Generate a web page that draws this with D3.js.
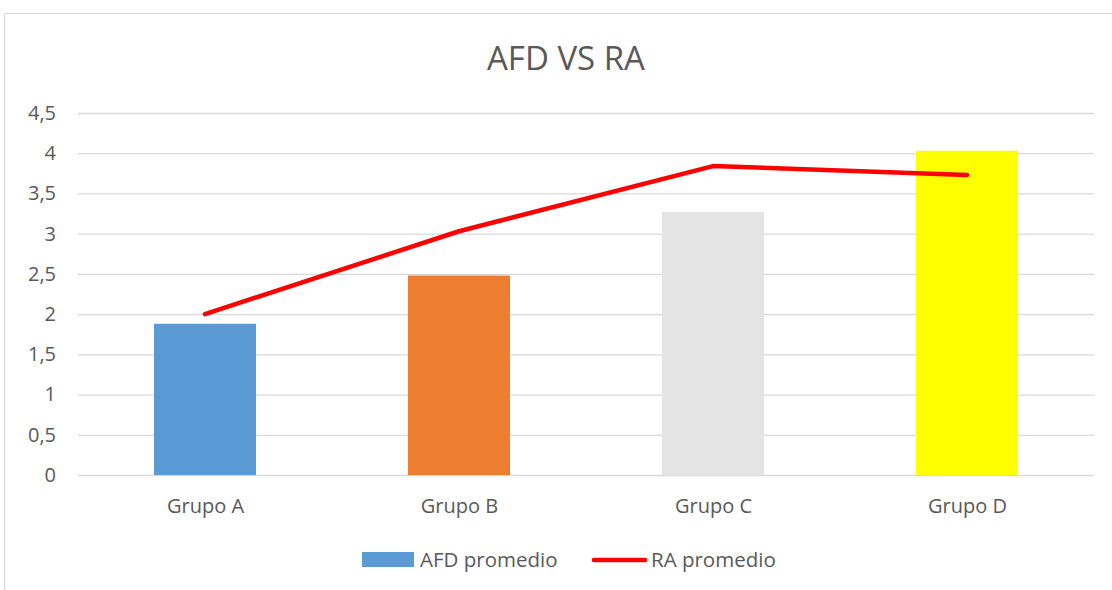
<!DOCTYPE html>
<html>
<head>
<meta charset="utf-8">
<script src="https://cdn.jsdelivr.net/npm/d3@7"></script>
<style>
  body { margin: 0; background: #fff; }
  text { font-family: "Open Sans", "Noto Sans", sans-serif; fill: #595959; }
</style>
</head>
<body>
<div id="chart"></div>
<script>
// data
var groups = ["Grupo A", "Grupo B", "Grupo C", "Grupo D"];
var afdValues = [1.88, 2.48, 3.27, 4.03];
var raValues = [2.0, 3.03, 3.84, 3.73];
var barColors = ["#5B9BD5", "#ED7D31", "#E4E4E4", "#FFFF00"];
var yTicks = [0, 0.5, 1, 1.5, 2, 2.5, 3, 3.5, 4, 4.5];

var width = 1112, height = 590;
var margin = {top: 113, right: 18, bottom: 115, left: 78};

var svg = d3.select("#chart").append("svg")
    .attr("width", width)
    .attr("height", height);

// chart frame
svg.append("rect")
    .attr("x", 4.5).attr("y", 13.5)
    .attr("width", width + 10).attr("height", height + 10)
    .attr("fill", "none")
    .attr("stroke", "#d9d9d9");

var plotW = width - margin.left - margin.right;
var plotH = height - margin.top - margin.bottom;

var y = d3.scaleLinear()
    .domain([0, 4.5])
    .range([plotH, 0]);

var g = svg.append("g")
    .attr("transform", "translate(" + margin.left + "," + margin.top + ")");

// gridlines
g.append("g")
    .attr("class", "grid")
    .call(d3.axisLeft(y).tickValues(yTicks).tickSize(-plotW).tickFormat(""))
    .call(function(s) { s.select(".domain").remove(); })
    .selectAll("line")
    .attr("stroke", "#d9d9d9")
    .attr("stroke-width", 1.3);

// y labels
var fmt = function(d) { return String(d).replace(".", ","); };
g.append("g")
    .call(d3.axisLeft(y).tickValues(yTicks).tickSize(0).tickPadding(22).tickFormat(fmt))
    .call(function(s) { s.select(".domain").remove(); })
    .selectAll("text")
    .style("font-size", "20px")
    .attr("fill", "#595959");

// x labels
var bandStep = plotW / groups.length;
var xc = d3.scalePoint()
    .domain(groups)
    .range([bandStep / 2, plotW - bandStep / 2]);

g.append("g")
    .attr("transform", "translate(0," + plotH + ")")
    .call(d3.axisBottom(xc).tickSize(0).tickPadding(24))
    .call(function(s) { s.select(".domain").remove(); })
    .selectAll("text")
    .style("font-size", "20px")
    .attr("fill", "#595959");

// bars
var barW = 102;
g.selectAll(".bar")
    .data(afdValues)
    .enter().append("rect")
    .attr("class", "bar")
    .attr("x", function(d, i) { return xc(groups[i]) - barW / 2; })
    .attr("y", function(d) { return y(d); })
    .attr("width", barW)
    .attr("height", function(d) { return plotH - y(d); })
    .attr("fill", function(d, i) { return barColors[i]; });

// line
var line = d3.line()
    .x(function(d, i) { return xc(groups[i]); })
    .y(function(d) { return y(d); });

g.append("path")
    .datum(raValues)
    .attr("d", line)
    .attr("fill", "none")
    .attr("stroke", "#FF0000")
    .attr("stroke-width", 4.5)
    .attr("stroke-linecap", "round")
    .attr("stroke-linejoin", "round");

// title
svg.append("text")
    .attr("x", 566).attr("y", 70)
    .attr("text-anchor", "middle")
    .style("font-size", "33px")
    .text("AFD VS RA");

// legend
var legend = svg.append("g");
legend.append("rect")
    .attr("x", 362).attr("y", 552)
    .attr("width", 52).attr("height", 15)
    .attr("fill", "#5B9BD5");
legend.append("text")
    .attr("x", 420).attr("y", 567)
    .style("font-size", "20.5px")
    .text("AFD promedio");
legend.append("line")
    .attr("x1", 594).attr("x2", 645)
    .attr("y1", 560).attr("y2", 560)
    .attr("stroke", "#FF0000")
    .attr("stroke-width", 4.5)
    .attr("stroke-linecap", "round");
legend.append("text")
    .attr("x", 651).attr("y", 567)
    .style("font-size", "20.5px")
    .text("RA promedio");
</script>
</body>
</html>
